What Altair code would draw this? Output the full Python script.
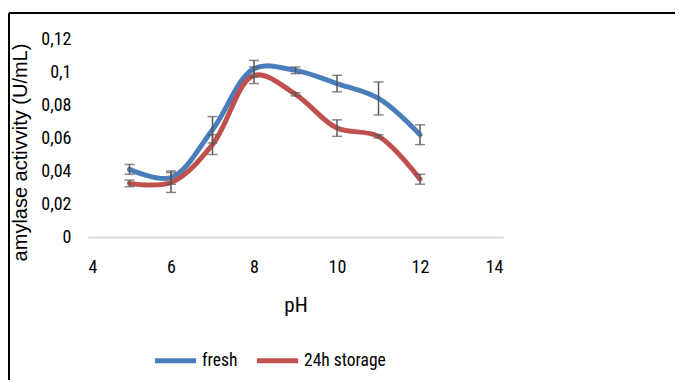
import altair as alt
import pandas as pd

ph = [5, 6, 7, 8, 9, 10, 11, 12]
fresh = [0.041, 0.036, 0.065, 0.102, 0.101, 0.093, 0.084, 0.062]
fresh_err = [0.003, 0.004, 0.008, 0.005, 0.002, 0.005, 0.010, 0.006]
stored = [0.0325, 0.033, 0.056, 0.098, 0.0865, 0.066, 0.061, 0.035]
stored_err = [0.002, 0.006, 0.006, 0.005, 0.001, 0.005, 0.001, 0.003]
series = ["fresh", "24h storage"]
colors = ["#4A7EBB", "#C0504D"]
x_ticks = [4, 6, 8, 10, 12, 14]
y_ticks = [0, 0.02, 0.04, 0.06, 0.08, 0.10, 0.12]

rows = []
for name, vals, errs in [(series[0], fresh, fresh_err), (series[1], stored, stored_err)]:
    for p, v, e in zip(ph, vals, errs):
        rows.append({"pH": p, "val": v, "lo": v - e, "hi": v + e, "series": name})
df = pd.DataFrame(rows)

NARROW = "Roboto Condensed"
WIDE = "Liberation Sans"

x_axis = alt.Axis(values=x_ticks, title="pH", grid=False, ticks=False,
                  domain=True, domainColor="#D9D9D9", domainWidth=2,
                  labelOverlap=False,
                  labelPadding=21, titlePadding=18, labelFontSize=18,
                  titleFontSize=21, labelFont=NARROW, titleFont=NARROW,
                  labelFontWeight="normal", titleFontWeight="normal",
                  labelColor="#000", titleColor="#000")
y_axis = alt.Axis(values=y_ticks, title="amylase activvity  (U/mL)", grid=False,
                  ticks=False, domain=False, labelOverlap=False,
                  labelExpr="replace(format(datum.value, '~g'), '.', ',')",
                  labelPadding=17, labelFontSize=18, titleFontSize=20,
                  labelFont=NARROW, titleFont=WIDE, labelColor="#000",
                  labelFontWeight="normal", titleColor="#000", titleFontWeight="normal",
                  titleX=-58, titleY=113)

xs = alt.Scale(domain=[4, 14], nice=False)
ys = alt.Scale(domain=[0, 0.12], nice=False)

base = alt.Chart(df)

lines = base.mark_line(strokeWidth=5, interpolate="catmull-rom", strokeCap="round").encode(
    x=alt.X("pH:Q", scale=xs, axis=x_axis),
    y=alt.Y("val:Q", scale=ys, axis=y_axis),
    color=alt.Color("series:N", sort=series,
                    scale=alt.Scale(domain=series, range=colors),
                    legend=alt.Legend(title=None, orient="none", legendX=64, legendY=298,
                                      direction="horizontal", symbolType="stroke",
                                      symbolSize=1700, symbolStrokeWidth=5,
                                      labelFontSize=17.5, labelFont=NARROW,
                                      labelFontWeight="normal", labelColor="#000",
                                      labelOffset=3, columnPadding=8)),
    detail="series:N",
)

err_rule = base.mark_rule(color="#595959", strokeWidth=1.5).encode(
    x=alt.X("pH:Q", scale=xs, axis=x_axis), y=alt.Y("lo:Q", scale=ys, axis=y_axis), y2="hi:Q")
cap_lo = base.mark_tick(color="#595959", thickness=1.5, size=10, orient="horizontal").encode(
    x=alt.X("pH:Q", scale=xs, axis=x_axis), y=alt.Y("lo:Q", scale=ys, axis=y_axis))
cap_hi = base.mark_tick(color="#595959", thickness=1.5, size=10, orient="horizontal").encode(
    x=alt.X("pH:Q", scale=xs, axis=x_axis), y=alt.Y("hi:Q", scale=ys, axis=y_axis))

one = pd.DataFrame({"k": [0]})
frame_top = alt.Chart(one).mark_rule(color="#000", strokeWidth=2).encode(
    x=alt.value(-79), x2=alt.value(600), y=alt.value(-26))
frame_left = alt.Chart(one).mark_rule(color="#000", strokeWidth=2).encode(
    x=alt.value(-79), y=alt.value(-26), y2=alt.value(360))

chart = alt.layer(lines, err_rule, cap_lo, cap_hi, frame_top, frame_left).properties(
    width=415, height=198,
    autosize=alt.AutoSizeParams(type="none"),
    padding={"left": 80, "top": 31, "right": 172, "bottom": 143},
).configure(background="white", view=alt.ViewConfig(stroke=None),
            axis=alt.AxisConfig(labelOverlap=False))

chart.save("out.html", embed_options={"renderer": "svg", "actions": False})
